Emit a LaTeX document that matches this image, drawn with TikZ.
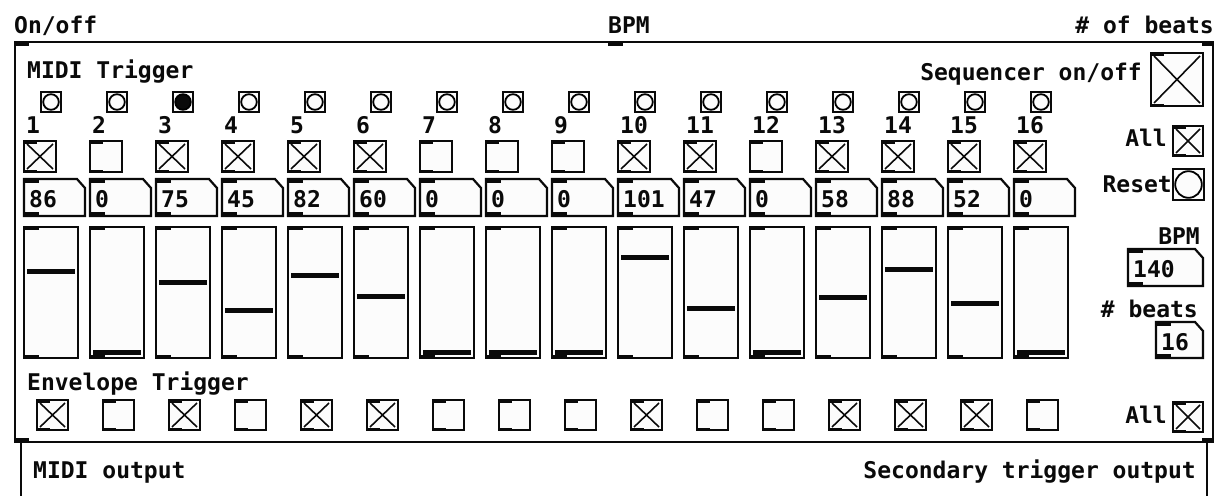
\documentclass[tikz,border=0pt]{standalone}
\usepackage{fontspec}
\setmonofont{DejaVu Sans Mono}
\definecolor{pdbg}{HTML}{FCFCFC}
\definecolor{pdink}{HTML}{0A0A0A}

% toggle: x, y, width, height, state
\newcommand{\pdtoggle}[5]{%
  \draw[pdbox] (#1,#2) rectangle ({#1+#3},{#2+#4});
  \fill[pdink] (#1,#2) rectangle ({#1+13},{#2+3});
  \fill[pdink] (#1,{#2+#4-2}) rectangle ({#1+13},{#2+#4});
  \ifnum#5=1
    \draw[pdcross] ({#1+3},{#2+3}) -- ({#1+#3-3},{#2+#4-3}) ({#1+#3-3},{#2+3}) -- ({#1+3},{#2+#4-3});
  \fi}
% bang: x, y, size, state
\newcommand{\pdbang}[4]{%
  \draw[pdbox,line width=2.6pt] (#1,#2) rectangle ({#1+#3},{#2+#3});
  \ifnum#4=1
    \draw[line width=1.8pt,fill=pdink] ({#1+#3/2},{#2+#3/2}) circle ({#3/2-2.2});
  \else
    \draw[line width=1.8pt,fill=pdbg] ({#1+#3/2},{#2+#3/2}) circle ({#3/2-2.2});
  \fi}
% number box: x, y, width, height, value, name
\newcommand{\pdnumbox}[6]{%
  \draw[pdbox] (#1,#2) -- ({#1+#3-8},#2) -- ({#1+#3},{#2+9}) -- ({#1+#3},{#2+#4}) -- (#1,{#2+#4}) -- cycle;
  \fill[pdink] (#1,#2) rectangle ({#1+15},{#2+4});
  \fill[pdink] (#1,{#2+#4-4}) rectangle ({#1+15},{#2+#4});
  \node[pdtext] (#6) at ({#1+5},{#2+28}) {#5};}

\begin{document}
\begin{tikzpicture}[x=1pt,y=1pt,yscale=-1,xscale=1,
    pdtext/.style={anchor=base west,inner sep=0pt,text=pdink,font=\ttfamily\bfseries\fontsize{23}{27}\selectfont},
    pdright/.style={pdtext,anchor=base east},
    pdbox/.style={draw=pdink,line width=2.2pt,fill=pdbg},
    pdcross/.style={draw=pdink,line width=1.6pt}]
\useasboundingbox (0,0) rectangle (1230,496);
\fill[white] (0,0) rectangle (1230,496);

%Shape: Canvas outline
\draw[pdink,line width=2pt] (15,42) rectangle (1213,442);
%Shape: Inlets and outlets
\fill[pdink] (15,41) rectangle (29,46);
\fill[pdink] (608,41) rectangle (623,46);
\fill[pdink] (1202,41) rectangle (1213,46);
\fill[pdink] (15,438) rectangle (29,443);
\fill[pdink] (1202,438) rectangle (1213,443);
%Shape: Outer box below
\draw[pdink,line width=2pt] (21,442) -- (21,496) (1207,442) -- (1207,496);

% Text Node
\node[pdtext] (onoff) at (14,33) {On/off};
% Text Node
\node[pdtext] (bpmin) at (608,33) {BPM};
% Text Node
\node[pdright] (beatsin) at (1214,33) {\# of beats};
% Text Node
\node[pdtext] (miditrig) at (27,78) {MIDI Trigger};
% Text Node
\node[pdtext] (envtrig) at (27,390) {Envelope Trigger};
% Text Node
\node[pdtext] (midiout) at (33,478) {MIDI output};
% Text Node
\node[pdright] (secout) at (1196,478) {Secondary trigger output};

%Shape: Step columns
\foreach \v/\ta/\tb [count=\n from 0] in {86/1/1,0/0/0,75/1/1,45/1/0,82/1/1,60/1/1,0/0/0,0/0/0,
    0/0/0,101/1/1,47/1/0,0/0/0,58/1/1,88/1/1,52/1/1,0/1/0}{
  \pgfmathsetmacro\c{24+66*\n}
  \pgfmathsetmacro\ky{352-0.933*\v}
  \pgfmathtruncatemacro\k{\n+1}
  \ifnum\n=2 \pdbang{\c+17}{92}{20}{1} \else \pdbang{\c+17}{92}{20}{0} \fi
  \node[pdtext] (step\k) at ({\c+2},133) {\k};
  \pdtoggle{\c}{141}{32}{31}{\ta}
  \pdnumbox{\c}{179}{61}{37}{\v}{vel\k}
  \draw[pdbox] (\c,227) rectangle ({\c+54},358);
  \fill[pdink] (\c,227) rectangle ({\c+15},230);
  \fill[pdink] (\c,355) rectangle ({\c+15},358);
  \fill[pdink] ({\c+3},{\ky-2.5}) rectangle ({\c+51},{\ky+2.5});
  \pdtoggle{\c+13}{400}{31}{30}{\tb}
}

% Text Node
\node[pdright] (seqlbl) at (1142,80) {Sequencer on/off};
\pdtoggle{1151}{53}{52}{53}{1}
% Text Node
\node[pdright] (alltop) at (1167,146) {All};
\pdtoggle{1173}{126}{30}{30}{1}
% Text Node
\node[pdright] (resetlbl) at (1172,192) {Reset};
\pdbang{1173}{169}{31}{0}
% Text Node
\node[pdright] (bpmlbl) at (1200,244) {BPM};
\pdnumbox{1128}{249}{75}{37}{140}{bpmval}
% Text Node
\node[pdright] (beatslbl) at (1198,317) {\# beats};
\pdnumbox{1156}{322}{47}{36}{16}{beatsval}
% Text Node
\node[pdright] (allbot) at (1167,423) {All};
\pdtoggle{1173}{402}{30}{30}{1}

\end{tikzpicture}
\end{document}
